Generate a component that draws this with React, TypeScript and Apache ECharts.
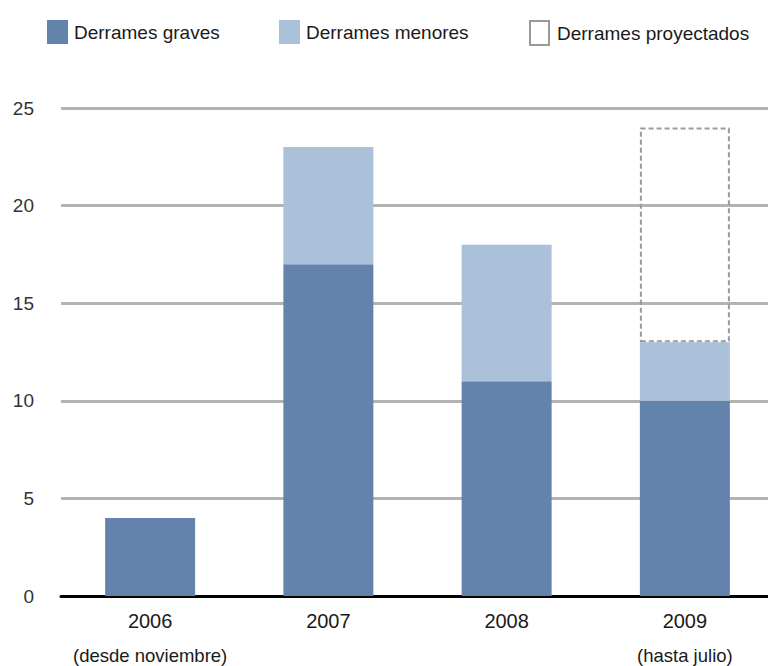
import React, { useEffect, useRef } from "react";
import * as echarts from "echarts";

// Oil spill counts per year
const years = ["2006", "2007", "2008", "2009"];
const yearNotes = ["(desde noviembre)", "", "", "(hasta julio)"];
const graves = [4, 17, 11, 10];
const menores: (number | string)[] = ["-", 6, 7, 3];
const proyectados: (number | string)[] = ["-", "-", "-", 11];

const seriesNames = ["Derrames graves", "Derrames menores", "Derrames proyectados"];
const yTicks = { min: 0, max: 25, interval: 5 };

const FONT = "'Liberation Sans', Arial, sans-serif";
const COLOR_GRAVES = "#6383ad";
const COLOR_MENORES = "#aac1d9";
const COLOR_PROY = "#9a9a9a";
const TEXT = "#1a1a1a";

export default function App() {
  const ref = useRef<HTMLDivElement>(null);

  useEffect(() => {
    if (!ref.current) return;
    const chart = echarts.init(ref.current, null, { renderer: "svg" });

    const legendBase = {
      top: 15,
      itemWidth: 21,
      itemHeight: 24,
      itemGap: 0,
      icon: "rect",
      selectedMode: false,
    };
    const legendText = (pad: number) => ({
      fontFamily: FONT,
      fontSize: 19,
      color: TEXT,
      padding: [0, 0, 0, pad],
    });

    chart.setOption({
      animation: false,
      textStyle: { fontFamily: FONT },
      legend: [
        { ...legendBase, left: 42, textStyle: legendText(1), data: [seriesNames[0]] },
        { ...legendBase, left: 274, textStyle: legendText(1), data: [seriesNames[1]] },
        {
          ...legendBase,
          left: 524,
          itemWidth: 19,
          textStyle: legendText(3),
          data: [
            {
              name: seriesNames[2],
              itemStyle: {
                color: "#ffffff",
                borderColor: COLOR_PROY,
                borderWidth: 2,
                borderType: "solid",
              },
            },
          ],
        },
      ],
      grid: { left: 61, right: 0, top: 108, bottom: 70, containLabel: false },
      xAxis: {
        type: "category",
        data: years,
        axisLine: { show: true, lineStyle: { color: "#000", width: 3 } },
        axisTick: { show: false },
        axisLabel: {
          margin: 8,
          formatter: (value: string, idx: number) =>
            yearNotes[idx] ? `{yr|${value}}\n{sub|${yearNotes[idx]}}` : `{yr|${value}}`,
          rich: {
            yr: { fontFamily: FONT, fontSize: 20, color: TEXT, lineHeight: 34 },
            sub: { fontFamily: FONT, fontSize: 18.5, color: TEXT, lineHeight: 34 },
          },
        },
      },
      yAxis: {
        type: "value",
        min: yTicks.min,
        max: yTicks.max,
        interval: yTicks.interval,
        axisLine: { show: false },
        axisTick: { show: false },
        axisLabel: { margin: 27, fontFamily: FONT, fontSize: 19, color: "#333" },
        splitLine: { lineStyle: { color: "#b3b3b3", width: 3 } },
      },
      series: [
        {
          name: seriesNames[0],
          type: "bar",
          stack: "total",
          barWidth: 90,
          data: graves,
          itemStyle: { color: COLOR_GRAVES },
        },
        {
          name: seriesNames[1],
          type: "bar",
          stack: "total",
          barWidth: 90,
          data: menores,
          itemStyle: { color: COLOR_MENORES },
        },
        {
          name: seriesNames[2],
          type: "bar",
          stack: "total",
          barWidth: 88,
          data: proyectados,
          itemStyle: {
            color: "rgba(0,0,0,0)",
            borderColor: COLOR_PROY,
            borderWidth: 2,
            borderType: [5, 3],
          },
        },
      ],
    });

    return () => chart.dispose();
  }, []);

  return (
    <div
      style={{
        position: "absolute",
        left: 0,
        top: 0,
        width: 768,
        height: 666,
        overflow: "hidden",
        background: "#fff",
      }}
    >
      <div ref={ref} style={{ width: 774, height: 666 }} />
    </div>
  );
}
